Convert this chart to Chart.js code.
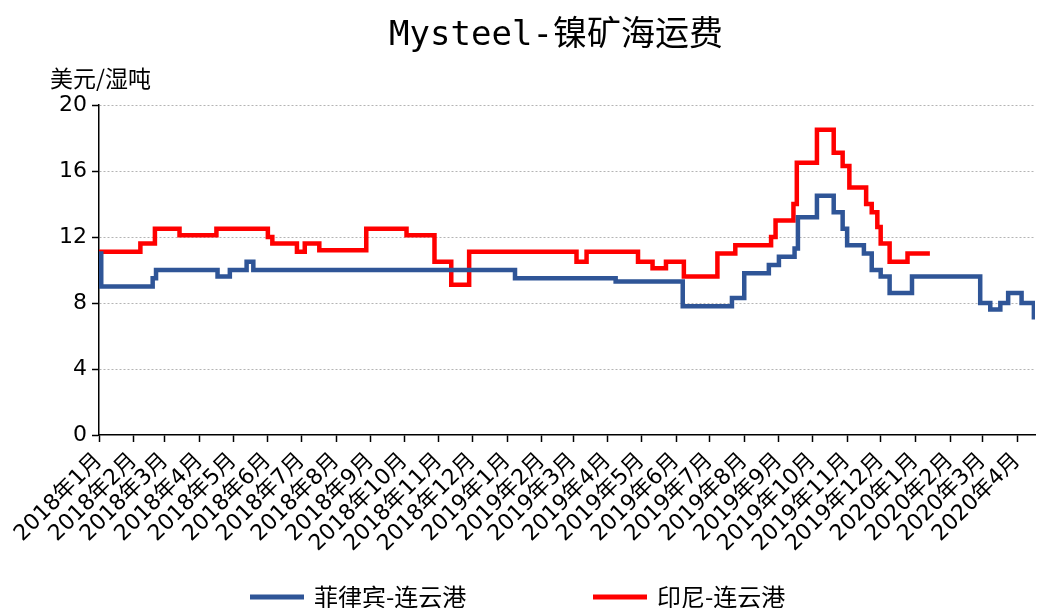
<!DOCTYPE html>
<html>
<head>
<meta charset="utf-8">
<script src="https://cdn.jsdelivr.net/npm/chart.js@4.4.1/dist/chart.umd.min.js"></script>
<style>
  html, body { margin: 0; padding: 0; background: #fff; }
  #wrap { width: 1038px; height: 608px; }
</style>
</head>
<body>
<div id="wrap"><canvas id="freightChart" width="1038" height="608"></canvas></div>
<script>
  // textes
  const chartTitle = 'Mysteel-镍矿海运费';
  const unitLabel = '美元/湿吨';
  const seriesNames = ['菲律宾-连云港', '印尼-连云港'];

  // axe X : un repère par mois
  const monthLabels = [
    '2018年1月', '2018年2月', '2018年3月', '2018年4月', '2018年5月', '2018年6月',
    '2018年7月', '2018年8月', '2018年9月', '2018年10月', '2018年11月', '2018年12月',
    '2019年1月', '2019年2月', '2019年3月', '2019年4月', '2019年5月', '2019年6月',
    '2019年7月', '2019年8月', '2019年9月', '2019年10月', '2019年11月', '2019年12月',
    '2020年1月', '2020年2月', '2020年3月', '2020年4月'
  ];
  const axisStart = '2018-01-01';
  const axisEnd = '2020-04-17';
  const yTicks = [0, 4, 8, 12, 16, 20];

  // 菲律宾-连云港 : dates de changement + valeur
  const phDates = [
    '2018-01-01', '2018-01-03', '2018-02-18', '2018-02-21', '2018-04-17', '2018-04-28',
    '2018-05-13', '2018-05-19', '2019-01-08', '2019-04-08', '2019-06-07', '2019-07-21',
    '2019-08-01', '2019-08-23', '2019-09-01', '2019-09-15', '2019-09-18', '2019-10-05',
    '2019-10-20', '2019-10-28', '2019-11-01', '2019-11-16', '2019-11-23', '2019-12-01',
    '2019-12-09', '2019-12-29', '2020-02-28', '2020-03-08', '2020-03-17', '2020-03-24',
    '2020-04-05', '2020-04-16'
  ];
  const phValues = [
    11.0, 9.0, 9.5, 10.0, 9.6, 10.0,
    10.5, 10.0, 9.5, 9.3, 7.8, 8.3,
    9.8, 10.3, 10.8, 11.3, 13.2, 14.5,
    13.5, 12.5, 11.5, 11.0, 10.0, 9.6,
    8.6, 9.6, 8.0, 7.6, 8.0, 8.6,
    8.0, 7.0
  ];

  // 印尼-连云港
  const idDates = [
    '2018-01-01', '2018-02-07', '2018-02-20', '2018-03-14', '2018-04-16', '2018-06-01',
    '2018-06-05', '2018-06-27', '2018-07-04', '2018-07-17', '2018-08-28', '2018-10-03',
    '2018-10-28', '2018-11-12', '2018-11-28', '2019-03-04', '2019-03-13', '2019-04-28',
    '2019-05-11', '2019-05-23', '2019-06-08', '2019-07-08', '2019-07-24', '2019-08-25',
    '2019-08-29', '2019-09-14', '2019-09-17', '2019-10-05', '2019-10-20', '2019-10-28',
    '2019-11-03', '2019-11-18', '2019-11-23', '2019-11-28', '2019-12-01', '2019-12-09',
    '2019-12-25', '2020-01-14'
  ];
  const idValues = [
    11.1, 11.6, 12.5, 12.1, 12.5, 12.0,
    11.6, 11.1, 11.6, 11.2, 12.5, 12.1,
    10.5, 9.1, 11.1, 10.5, 11.1, 10.5,
    10.1, 10.5, 9.6, 11.0, 11.5, 12.0,
    13.0, 14.0, 16.5, 18.5, 17.1, 16.3,
    15.0, 14.0, 13.5, 12.6, 11.6, 10.5,
    11.0, 11.0
  ];

  const colors = ['#2F5597', '#FF0000'];

  // jours depuis le début de l'axe
  function dayIndex(str) {
    const [y, m, d] = str.split('-').map(Number);
    const [y0, m0, d0] = axisStart.split('-').map(Number);
    return (Date.UTC(y, m - 1, d) - Date.UTC(y0, m0 - 1, d0)) / 86400000;
  }

  function monthStartDay(label) {
    const y = parseInt(label.slice(0, 4), 10);
    const m = parseInt(label.slice(5), 10);
    return dayIndex(y + '-' + m + '-1');
  }

  const monthTicks = monthLabels.map(monthStartDay);
  const toPoints = (dates, values) => dates.map((d, i) => ({ x: dayIndex(d), y: values[i] }));

  const labelFont = '"DejaVu Sans", "Noto Sans CJK SC", sans-serif';

  // titre, unité et légende dessinés à la main
  const decorPlugin = {
    id: 'decor',
    afterDraw(chart) {
      const ctx = chart.ctx;
      ctx.save();
      ctx.fillStyle = '#000';
      ctx.textBaseline = 'middle';

      ctx.font = '34px "DejaVu Sans Mono", "Noto Sans CJK SC", monospace';
      ctx.textAlign = 'center';
      ctx.fillText(chartTitle, 556, 36);

      ctx.font = '23px "Noto Sans CJK SC", sans-serif';
      ctx.textAlign = 'left';
      ctx.fillText(unitLabel, 50, 78);

      const legendX = [250, 593];
      ctx.font = '24px "Noto Sans CJK SC", sans-serif';
      chart.data.datasets.forEach((ds, i) => {
        ctx.strokeStyle = ds.borderColor;
        ctx.lineWidth = 5;
        ctx.beginPath();
        ctx.moveTo(legendX[i], 597);
        ctx.lineTo(legendX[i] + 54, 597);
        ctx.stroke();
        ctx.fillText(ds.label, legendX[i] + 64, 597);
      });
      ctx.restore();
    }
  };

  const ctx = document.getElementById('freightChart').getContext('2d');
  const freightChart = new Chart(ctx, {
    type: 'line',
    data: {
      datasets: [
        {
          label: seriesNames[0],
          data: toPoints(phDates, phValues),
          borderColor: colors[0],
          backgroundColor: colors[0],
          borderWidth: 4.5,
          pointRadius: 0,
          stepped: true,
          fill: false
        },
        {
          label: seriesNames[1],
          data: toPoints(idDates, idValues),
          borderColor: colors[1],
          backgroundColor: colors[1],
          borderWidth: 4.5,
          pointRadius: 0,
          stepped: true,
          fill: false
        }
      ]
    },
    options: {
      responsive: false,
      devicePixelRatio: 1,
      animation: false,
      layout: { padding: { left: 0, right: 3, top: 105, bottom: 0 } },
      plugins: {
        legend: { display: false },
        title: { display: false },
        tooltip: { enabled: false }
      },
      scales: {
        x: {
          type: 'linear',
          min: 0,
          max: dayIndex(axisEnd),
          afterFit: (scale) => {
            scale.height = 173;
            scale.paddingLeft = 0;
            scale.paddingRight = 0;
          },
          afterBuildTicks: (scale) => { scale.ticks = monthTicks.map(v => ({ value: v })); },
          ticks: {
            autoSkip: false,
            maxRotation: 45,
            minRotation: 45,
            padding: 6,
            color: '#000',
            font: { family: labelFont, size: 22 },
            callback: (value, index) => monthLabels[index]
          },
          grid: {
            drawOnChartArea: false,
            drawTicks: true,
            tickLength: 7,
            tickColor: '#000',
            tickWidth: 1.5
          },
          border: { display: true, color: '#000', width: 1.5 }
        },
        y: {
          min: 0,
          max: 20,
          afterFit: (scale) => { scale.width = 99; },
          afterBuildTicks: (scale) => { scale.ticks = yTicks.map(v => ({ value: v })); },
          ticks: {
            padding: 5,
            color: '#000',
            font: { family: labelFont, size: 22 }
          },
          grid: {
            color: (c) => (c.tick && c.tick.value === 0 ? 'rgba(0,0,0,0)' : '#b4b4b4'),
            lineWidth: 1,
            tickLength: 7,
            tickColor: '#000',
            tickWidth: 1.5
          },
          border: { display: true, color: '#000', width: 1.5, dash: [2, 2] }
        }
      }
    },
    plugins: [decorPlugin]
  });
</script>
</body>
</html>
